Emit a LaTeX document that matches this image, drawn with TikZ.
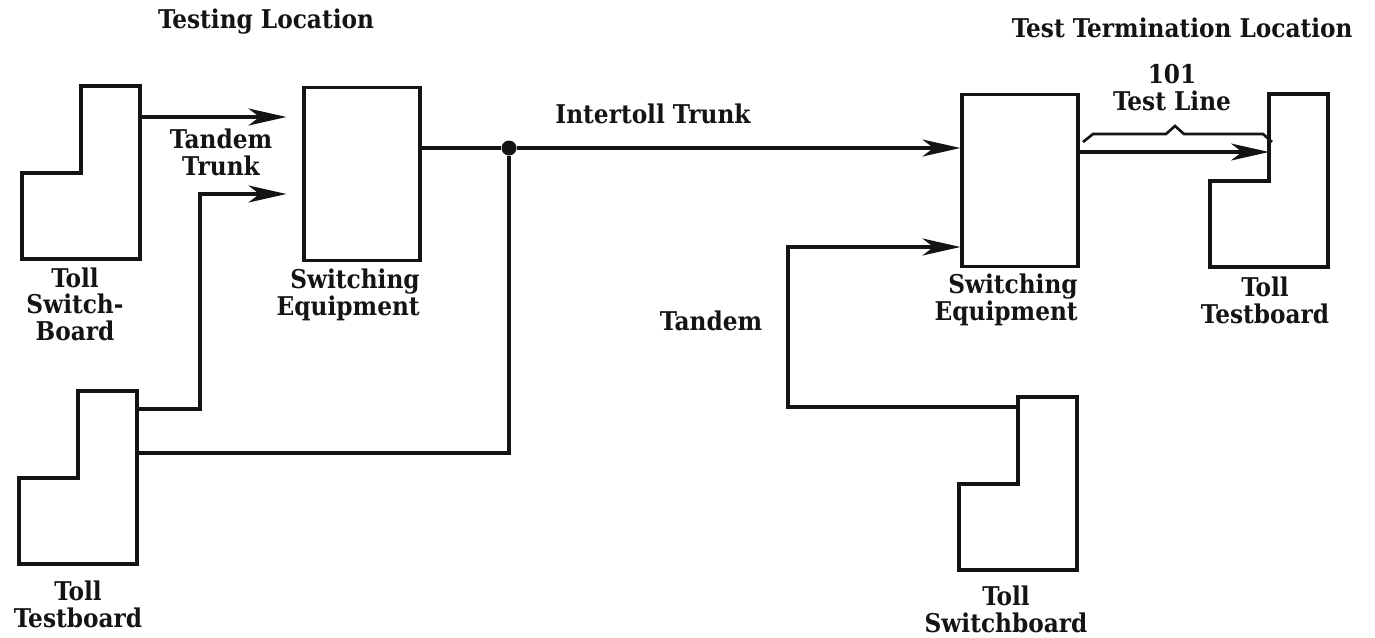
\documentclass[tikz,border=0pt]{standalone}
\usepackage{fontspec}
\setmainfont{DejaVu Serif Condensed}
\usetikzlibrary{positioning,arrows.meta}

\begin{document}
\begin{tikzpicture}[x=0.02cm, y=-0.02cm, font=\fontsize{14.7}{15}\selectfont\bfseries,
  line/.style={draw=ink, line width=1.8pt, line join=miter},
  arr/.style={line, -{Stealth[length=0.76cm, width=0.34cm, inset=0.22cm]}},
  swbox/.style={draw=ink, line width=1.8pt, minimum width=2.32cm, minimum height=3.45cm, inner sep=0pt},
  lbl/.style={anchor=base, align=center, inner sep=0pt, text=ink},
  joint/.style={circle, fill=ink, inner sep=0pt, minimum size=0.3cm}]

\definecolor{ink}{RGB}{20,20,20}

\def\bw{118}  % board width (px)
\def\cw{59}   % board column width
\def\bh{173}  % board height
\def\sh{86}   % step depth

\useasboundingbox (0,0) rectangle (1375,637);

% ---------------- helper: L-shaped board ----------------
\newcommand{\board}[3]{%
  \coordinate (#1) at (#2,#3);
  \draw[line] (#1) -- ++(0,\bh) -- ++(-\bw,0) -- ++(0,-\sh)
    -- ++(\cw,0) -- ++(0,{-(\bh-\sh)}) -- cycle;
}

% =========== boards and switching equipment ===========
\board{tsbA}{140}{86}
\board{tbA}{137}{391}
\board{tbB}{1328}{94}
\board{tsbB}{1077}{397}

\node[swbox] (swA) at (362,174) {};
\node[swbox] (swB) at (1020,180.5) {};
\node[joint] (jn) at (509,148) {};

\coordinate (tsbA-out) at (140,117);
\coordinate (tbA-out1) at (137,409);
\coordinate (tbA-out2) at (137,453);
\coordinate (tbB-in)   at (1269,152);
\coordinate (tsbB-out) at (1018,407);

% =========== connectors ===========
\draw[arr, shorten >=0.32cm] (tsbA-out) -- (tsbA-out -| swA.west);
\draw[arr, shorten >=0.32cm] (tbA-out1) -- ++(63,0) |- ([yshift=-0.4cm]swA.west);
\draw[line] (tbA-out2) -| (jn);
\draw[line] (swA.east |- jn) -- (jn);
\draw[arr] (jn) -- (jn -| swB.west);
\draw[arr] (tsbB-out) -- ++(-230,0) |- ([yshift=-1.33cm]swB.west);
\draw[arr] (swB.east |- tbB-in) -- (tbB-in);

% brace over the test line
\draw[line, line width=1.5pt] (1083,142) -- (1093,134) -- (1166,134) -- (1175,126)
  -- (1184,134) -- (1263,134) -- (1272,142);

% =========== labels (base = last line) ===========
\node[lbl] (locA) at (266,28) {Testing Location};
\node[lbl, anchor=base east] (locB) at (1353,37) {Test Termination Location};
\node[lbl] (tdmTrunk) at (221,175) {Tandem\\Trunk};
\node[lbl] (itTrunk) at (653,123) {Intertoll Trunk};
\node[lbl] (tdm) at (711,330) {Tandem};
\node[lbl] (testLine) at (1172,110) {101\\Test Line};
\node[lbl] (tsbA-lbl) at (75,340) {Toll\\Switch-\\Board};
\node[lbl, align=right, anchor=base east] (swA-lbl) at (420,315) {Switching\\Equipment};
\node[lbl, align=right, anchor=base east] (swB-lbl) at (1078,320) {Switching\\Equipment};
\node[lbl] (tbB-lbl) at (1265,323) {Toll\\Testboard};
\node[lbl] (tbA-lbl) at (78,627) {Toll\\Testboard};
\node[lbl] (tsbB-lbl) at (1006,632) {Toll\\Switchboard};

\end{tikzpicture}
\end{document}
